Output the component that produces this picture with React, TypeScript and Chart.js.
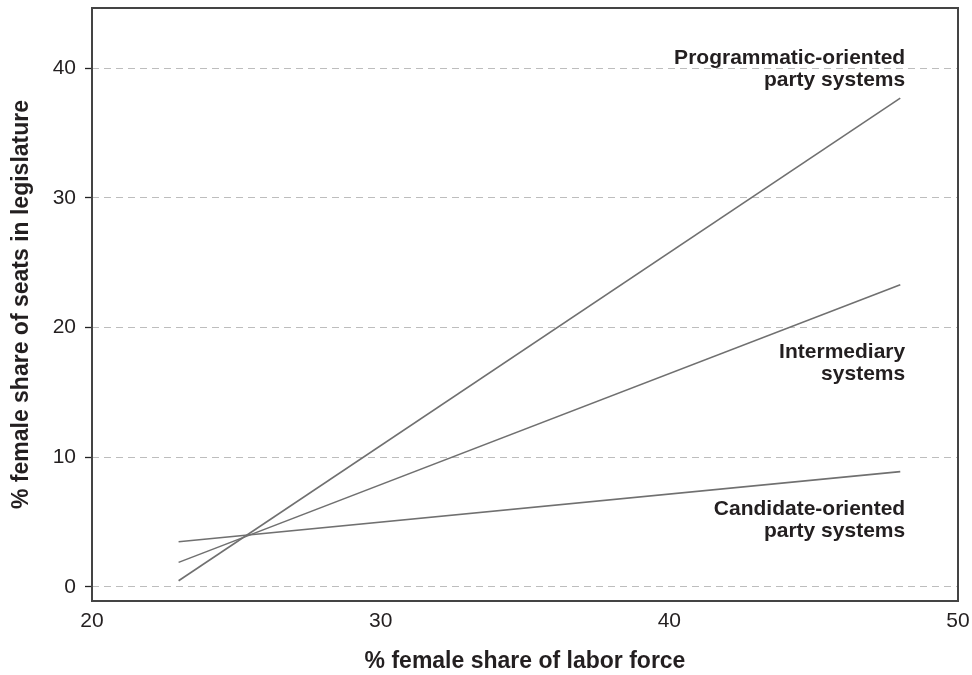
import React, { useEffect, useRef } from "react";
import { Chart, registerables } from "chart.js";

Chart.register(...registerables);

// ---- data ----
const xRange = [23, 48];
const programmatic = [0.46, 37.7];
const intermediary = [1.88, 23.3];
const candidate = [3.47, 8.88];

const xTicks = [20, 30, 40, 50];
const yTicks = [0, 10, 20, 30, 40];

const seriesLabels = [
  ["Programmatic-oriented", "party systems"],
  ["Intermediary", "systems"],
  ["Candidate-oriented", "party systems"],
];
// label anchor (data coords): right edge x, vertical centre y
const labelX = 48.17;
const labelY = [39.95, 17.25, 5.15];

const xTitle = "% female share of labor force";
const yTitle = "% female share of seats in legislature";

const TEXT = "#231f20";
const LINE = "#707070";
const FONT = "'Liberation Sans', Arial, Helvetica, sans-serif";

const toPts = (ys: number[]) => xRange.map((x, i) => ({ x, y: ys[i] }));

const decor = {
  id: "decor",
  afterDraw(chart: any) {
    const { ctx, chartArea, scales } = chart;
    const { left, right, top, bottom } = chartArea;
    ctx.save();
    // frame
    ctx.strokeStyle = "#444";
    ctx.lineWidth = 2;
    ctx.strokeRect(left, top, right - left, bottom - top);

    // series labels
    ctx.fillStyle = TEXT;
    ctx.font = `bold 21px ${FONT}`;
    ctx.textAlign = "right";
    ctx.textBaseline = "middle";
    const xr = scales.x.getPixelForValue(labelX);
    seriesLabels.forEach((lines, i) => {
      const yc = scales.y.getPixelForValue(labelY[i]);
      const lh = 22;
      lines.forEach((t, j) => {
        ctx.fillText(t, xr, yc + (j - (lines.length - 1) / 2) * lh);
      });
    });

    // axis titles
    ctx.font = `bold 23px ${FONT}`;
    ctx.textAlign = "center";
    ctx.textBaseline = "middle";
    ctx.fillText(xTitle, (left + right) / 2, 662);
    ctx.save();
    ctx.translate(22, (top + bottom) / 2);
    ctx.rotate(-Math.PI / 2);
    ctx.fillText(yTitle, 0, 0);
    ctx.restore();
    ctx.restore();
  },
};

export default function App() {
  const ref = useRef<HTMLCanvasElement>(null);
  useEffect(() => {
    document.body.style.margin = "0";
    const ds = (d: number[]) => ({
      data: toPts(d),
      borderColor: LINE,
      borderWidth: 1.6,
      pointRadius: 0,
      fill: false,
      tension: 0,
    });
    const chart = new Chart(ref.current as HTMLCanvasElement, {
      type: "line",
      data: {
        datasets: [ds(programmatic), ds(intermediary), ds(candidate)],
      },
      options: {
        animation: false,
        responsive: false,
        layout: { padding: { left: 0, top: 8, right: 14, bottom: 0 } },
        plugins: { legend: { display: false }, tooltip: { enabled: false } },
        scales: {
          x: {
            type: "linear",
            min: 20,
            max: 50,
            afterBuildTicks: (s: any) => {
              s.ticks = xTicks.map((v) => ({ value: v }));
            },
            afterFit: (s: any) => {
              s.height = 74;
              s.paddingLeft = 0;
              s.paddingRight = 0;
            },
            grid: { display: false, drawTicks: false },
            border: { display: false },
            ticks: {
              padding: 8,
              maxRotation: 0,
              color: TEXT,
              font: { family: FONT, size: 21 },
            },
          },
          y: {
            type: "linear",
            min: -1.1,
            max: 44.65,
            afterBuildTicks: (s: any) => {
              s.ticks = yTicks.map((v) => ({ value: v }));
            },
            afterFit: (s: any) => {
              s.width = 92;
              s.paddingTop = 0;
              s.paddingBottom = 0;
            },
            grid: {
              color: "#bdbdbd",
              lineWidth: 1,
              drawTicks: true,
              tickLength: 7,
              tickColor: "#222",
              tickWidth: 1.3,
              tickBorderDash: [],
            },
            border: { display: false, dash: [7, 5] },
            ticks: {
              padding: 9,
              color: TEXT,
              font: { family: FONT, size: 21 },
            },
          },
        },
      },
      plugins: [decor],
    });
    return () => chart.destroy();
  }, []);
  return (
    <div style={{ position: "absolute", left: 0, top: 0, width: 972, height: 675 }}>
      <canvas ref={ref} width={972} height={675} style={{ display: "block" }} />
    </div>
  );
}
